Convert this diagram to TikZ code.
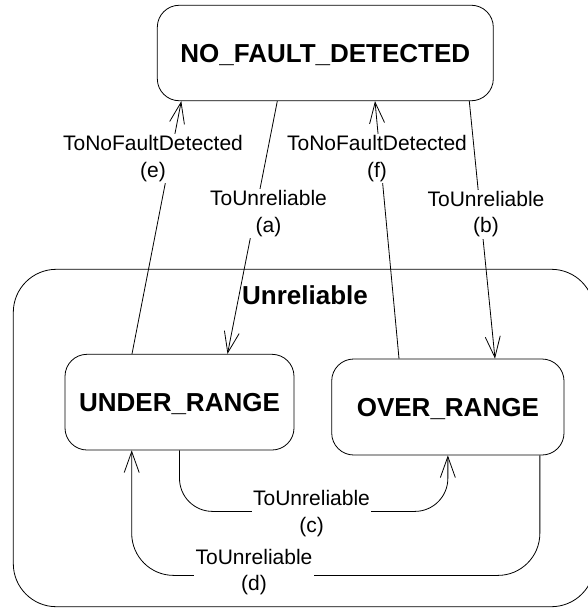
\documentclass[tikz,border=0pt]{standalone}
\usepackage{fontspec}
\setmainfont{Liberation Sans}
\usetikzlibrary{arrows.meta,calc}
\begin{document}
\begin{tikzpicture}[x=1pt,y=-1pt,
  state/.style={draw, rounded corners=22pt, line width=0.8pt,
    font=\fontsize{26}{30}\selectfont\bfseries, text height=18.6pt,
    text depth=0pt, inner sep=0pt, align=center},
  lbl/.style={fill=white, inner sep=1.5pt,
    font=\fontsize{21}{26.7}\selectfont, align=center},
  conn/.style={line width=0.8pt, -{Straight Barb[length=21pt,width=15pt]}}
]
\useasboundingbox (0,0) rectangle (587,608);
% composite state
\node[draw, rounded corners=43pt, minimum width=581.1pt, minimum height=337.4pt,
  inner sep=0pt, line width=0.8pt] (R) at (303.85,438) {};
\node[font=\fontsize{26}{30}\selectfont\bfseries, text height=18.6pt,
  text depth=0pt, inner sep=0pt] (RL) at (305,294.7) {Unreliable};
% states
\node[state, minimum width=336pt, minimum height=95.5pt] (N) at (325.3,53) {NO\_FAULT\_DETECTED};
\node[state, minimum width=229pt, minimum height=95.7pt] (U) at (179.5,402.15) {UNDER\_RANGE};
\node[state, minimum width=232.3pt, minimum height=96pt] (O) at (447.85,407) {OVER\_RANGE};
% transitions
\draw[conn] ([xshift=-47.5pt]U.north) -- ([xshift=-144pt]N.south);
\draw[conn] ([xshift=-48pt]N.south) -- ([xshift=48pt]U.north);
\draw[conn] ([xshift=-48.85pt]O.north) -- ([xshift=49.7pt]N.south);
\draw[conn] ([xshift=144pt]N.south) -- ([xshift=47.15pt]O.north);
\draw[conn, rounded corners=33pt] (U.south) -- ++(0,61) -| (O.south);
\draw[conn, rounded corners=42pt] ([xshift=92pt]O.south) -- ++(0,120) -| ([xshift=-47.8pt]U.south);
% labels
\node[lbl] (le) at (153,158.7) {ToNoFaultDetected\\(e)};
\node[lbl] (lf) at (377,158.7) {ToNoFaultDetected\\(f)};
\node[lbl] (la) at (268.5,213.7) {ToUnreliable\\(a)};
\node[lbl] (lb) at (486,214.2) {ToUnreliable\\(b)};
\node[lbl] (lc) at (311.5,513.7) {ToUnreliable\\(c)};
\node[lbl] (ld) at (254,572) {ToUnreliable\\(d)};
\end{tikzpicture}
\end{document}
